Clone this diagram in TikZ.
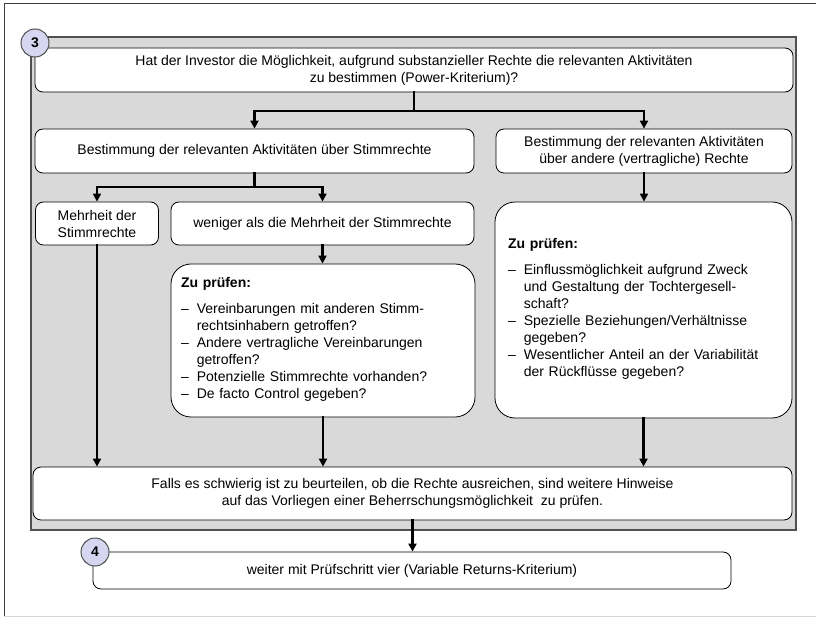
\documentclass[tikz,border=0pt]{standalone}
\usepackage{fontspec}
\setmainfont{Liberation Sans}
\usetikzlibrary{arrows.meta}
\definecolor{panelgray}{HTML}{D9D9D9}
\definecolor{paneledge}{HTML}{505050}
\definecolor{lavender}{HTML}{D6D6F0}
\tikzset{
  box/.style={draw=black, fill=white, line width=0.8pt, rounded corners=8pt, inner sep=0pt, align=center, font=\fontsize{14}{17}\selectfont},
  bigbox/.style={box, rounded corners=20pt, align=left, inner xsep=10pt},
  arr/.style={-{Triangle[length=8pt,width=8pt]}, line width=2.2pt, line cap=rect},
  ln/.style={line width=2.2pt, line cap=rect},
  num/.style={circle, draw=paneledge, fill=lavender, line width=1pt, minimum size=28pt, inner sep=0pt, font=\fontsize{14}{14}\selectfont\bfseries}
}
\begin{document}
\begin{tikzpicture}[x=1pt,y=-1pt]
\useasboundingbox (0,0) rectangle (816,617);
% outer frame
\draw[color=black!75, line width=0.8pt] (4,617) -- (4,3) -- (816,3);
\draw[color=black!15, line width=1pt] (4,616) -- (816,616);
% grey panel
\draw[fill=panelgray, draw=paneledge, line width=1.2pt] (31,37) rectangle (796,530);

\node[box, minimum width=758pt, minimum height=44pt] (top) at (414,70)
  {Hat der Investor die Möglichkeit, aufgrund substanzieller Rechte die relevanten Aktivitäten\\zu bestimmen (Power-Kriterium)?};
\node[num] (n3) at (35,43) {3};

\node[box, minimum width=439pt, minimum height=44pt] (stimm) at (254.5,151)
  {Bestimmung der relevanten Aktivitäten über Stimmrechte};
\node[box, minimum width=296pt, minimum height=44pt] (andere) at (644,151)
  {Bestimmung der relevanten Aktivitäten\\über andere (vertragliche) Rechte};

\node[box, minimum width=123pt, minimum height=43pt] (mehr) at (97,223.5)
  {Mehrheit der\\Stimmrechte};
\node[box, minimum width=303pt, minimum height=43pt] (wenig) at (322.5,223.5)
  {weniger als die Mehrheit der Stimmrechte};

\node[bigbox, minimum width=304pt, minimum height=153pt, text width=284pt] (midcheck) at (323,340.5)
  {\textbf{Zu prüfen:}\\[10pt]
   \begin{tabular}{@{}l@{\hspace{8pt}}l@{}}
   – & Vereinbarungen mit anderen Stimm-\\
     & rechtsinhabern getroffen?\\
   – & Andere vertragliche Vereinbarungen\\
     & getroffen?\\
   – & Potenzielle Stimmrechte vorhanden?\\
   – & De facto Control gegeben?
   \end{tabular}};

\node[bigbox, minimum width=297pt, minimum height=216pt, text width=271pt, inner xsep=13pt] (rightcheck) at (643.5,310)
  {\textbf{Zu prüfen:}\\[10pt]
   \begin{tabular}{@{}l@{\hspace{8pt}}l@{}}
   – & Einflussmöglichkeit aufgrund Zweck\\
     & und Gestaltung der Tochtergesell-\\
     & schaft?\\
   – & Spezielle Beziehungen/Verhältnisse\\
     & gegeben?\\
   – & Wesentlicher Anteil an der Variabilität\\
     & der Rückflüsse gegeben?
   \end{tabular}};

\node[box, minimum width=759pt, minimum height=53pt] (falls) at (412.5,493.5)
  {Falls es schwierig ist zu beurteilen, ob die Rechte ausreichen, sind weitere Hinweise\\auf das Vorliegen einer Beherrschungsmöglichkeit\ \ zu prüfen.};

\node[box, minimum width=638pt, minimum height=37pt] (weiter) at (412,570.5)
  {weiter mit Prüfschritt vier (Variable Returns-Kriterium)};
\node[num] (n4) at (95,552) {4};

% connectors
\coordinate (j1) at (414,111);
\draw[ln] (top.south) -- (j1);
\draw[arr] (j1) -| (stimm.north);
\draw[arr] (j1) -| (andere.north);
\coordinate (j2) at (254.5,187);
\draw[ln] (stimm.south) -- (j2);
\draw[arr] (j2) -| (mehr.north);
\draw[arr] (j2) -| (wenig.north);
\draw[arr] (andere.south) -- (andere.south |- rightcheck.north);
\draw[arr] (wenig.south) -- (wenig.south |- midcheck.north);
\draw[arr] (mehr.south) -- (mehr.south |- falls.north);
\draw[arr] (midcheck.south) -- (midcheck.south |- falls.north);
\draw[arr] (rightcheck.south) -- (rightcheck.south |- falls.north);
\draw[arr] (falls.south) -- (falls.south |- weiter.north);
\end{tikzpicture}
\end{document}
